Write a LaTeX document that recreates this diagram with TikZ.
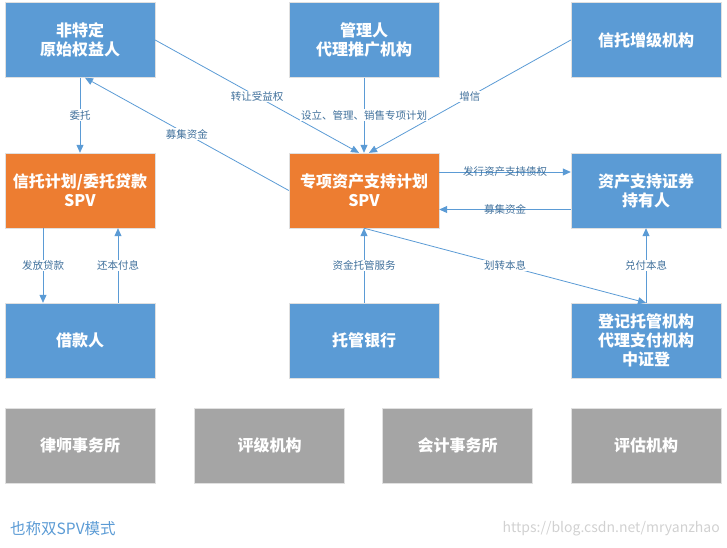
\documentclass[tikz,border=0pt]{standalone}
\usepackage{fontspec}
\setmainfont{Noto Sans CJK SC}
\usetikzlibrary{arrows.meta}
\definecolor{boxblue}{HTML}{5B9BD5}
\definecolor{boxorange}{HTML}{ED7D31}
\definecolor{boxgrey}{HTML}{A5A5A5}
\definecolor{linkblue}{HTML}{5B9BD5}
\definecolor{labblue}{HTML}{41719C}

\begin{document}
\begin{tikzpicture}[x=1pt,y=-1pt,
        party/.style={fill=boxblue,draw=black!12,text=white,font=\bfseries\fontsize{16}{19}\selectfont,
                minimum width=150pt,minimum height=75pt,align=center,inner sep=0pt},
        spv/.style={party,fill=boxorange},
        agency/.style={party,fill=boxgrey},
        flow/.style={draw=linkblue,line width=0.8pt,-{Triangle[length=8pt,width=7pt]}},
        tag/.style={fill=white,text=labblue,font=\fontsize{10.5}{12}\selectfont,inner sep=1pt},
        tagover/.style={tag,fill=none}]
        \useasboundingbox (0,0) rectangle (727,547);

        \node[party] (orig) at (80,40) {非特定\\原始权益人};
        \node[party] (mgr) at (364,40) {管理人\\代理推广机构};
        \node[party] (credit) at (646,40) {信托增级机构};
        \node[spv] (trustspv) at (80,190.5) {信托计划/委托贷款\\SPV};
        \node[spv] (abspv) at (364,190.5) {专项资产支持计划\\SPV};
        \node[party] (holder) at (646,190.5) {资产支持证券\\持有人};
        \node[party] (borrower) at (80,340.5) {借款人};
        \node[party] (bank) at (364,340.5) {托管银行};
        \node[party] (registry) at (646,340.5) {登记托管机构\\代理支付机构\\中证登};

        \node[agency] (law) at (80,445.5) {律师事务所};
        \node[agency] (rating) at (269.5,445.5) {评级机构};
        \node[agency] (account) at (457.5,445.5) {会计事务所};
        \node[agency] (assess) at (646,445.5) {评估机构};

        \draw[flow] (orig) -- node[tag] {委托} (trustspv);
        \draw[flow] (abspv.west) -- node[tag] {募集资金} ([xshift=5pt]orig.south);
        \draw[flow] (orig.east) -- node[tag] {转让受益权} ([xshift=-5pt]abspv.north);
        \draw[flow] (credit.west) -- node[tag] {增信} ([xshift=5pt]abspv.north);
        \draw[flow] (mgr) -- node[tag] {设立、管理、销售专项计划} (abspv);

        \draw[flow] ([yshift=18.5pt]abspv.east) -- node[tagover] {发行资产支持债权} ([yshift=18.5pt]holder.west);
        \draw[flow] ([yshift=-19pt]holder.west) -- node[tagover] {募集资金} ([yshift=-19pt]abspv.east);

        \draw[flow] ([xshift=-37pt]trustspv.south) -- node[tag] {发放贷款} ([xshift=-37pt]borrower.north);
        \draw[flow] ([xshift=38pt]borrower.north) -- node[tag] {还本付息} ([xshift=38pt]trustspv.south);
        \draw[flow] (bank) -- node[tag] {资金托管服务} (abspv);
        \draw[flow] (abspv.south) -- node[tag] {划转本息} (registry.north);
        \draw[flow] (registry) -- node[tag] {兑付本息} (holder);

        \node[anchor=west,inner sep=0pt,text=boxblue,font=\fontsize{15.5}{17}\selectfont] (note) at (10,529) {也称双SPV模式};
        \node[anchor=east,inner sep=0pt,text=black!18,font=\fontsize{14}{16}\selectfont] (mark) at (720,529) {https://blog.csdn.net/mryanzhao};
\end{tikzpicture}
\end{document}
